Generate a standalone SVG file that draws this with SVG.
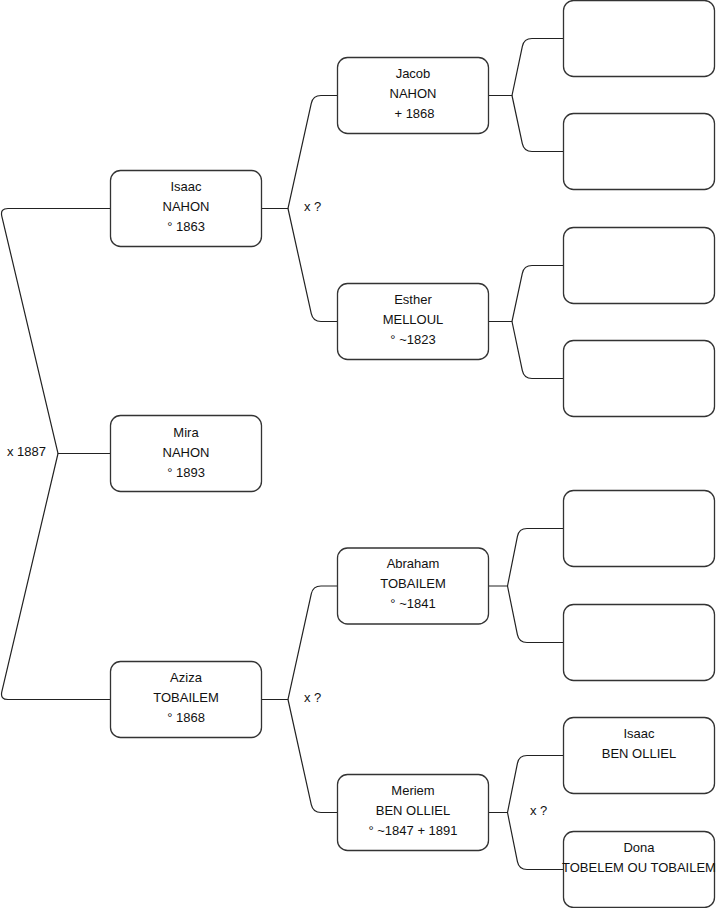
<svg xmlns="http://www.w3.org/2000/svg" width="716" height="908" viewBox="0 0 716 908">
<style>
.box{fill:#fff;stroke:#333;stroke-width:1.3}
.c{fill:none;stroke:#222;stroke-width:1.2}
text{font-family:"Liberation Sans",Arial,Helvetica,sans-serif;font-size:13px;fill:#111}
.m{text-anchor:middle}
</style>
<rect width="716" height="908" fill="#fff"/>
<g id="connectors">
<path class="c" d="M110.5,453.5 H58 L1.84,216.28 Q0,208.5 8,208.5 H110.5"/>
<path class="c" d="M58,453.5 L1.84,691.71 Q0,699.5 8,699.5 H110.5"/>
<path class="c" d="M261.5,208.5 H288 L311.27,103.31 Q313,95.5 321,95.5 H337.5"/>
<path class="c" d="M288,208.5 L311.27,313.69 Q313,321.5 321,321.5 H337.5"/>
<path class="c" d="M261.5,699.5 H288 L311.28,593.81 Q313,586 321,586 H337.5"/>
<path class="c" d="M288,699.5 L311.27,804.69 Q313,812.5 321,812.5 H337.5"/>
<path class="c" d="M488.5,95.5 H512 L522.35,46.33 Q524,38.5 532,38.5 H563.5"/>
<path class="c" d="M512,95.5 L522.32,143.68 Q524,151.5 532,151.5 H563.5"/>
<path class="c" d="M488.5,321.5 H512 L522.32,273.32 Q524,265.5 532,265.5 H563.5"/>
<path class="c" d="M512,321.5 L522.35,370.67 Q524,378.5 532,378.5 H563.5"/>
<path class="c" d="M488.5,586 H507.5 L517.43,536.34 Q519,528.5 527,528.5 H563.5"/>
<path class="c" d="M507.5,586 L517.4,634.66 Q519,642.5 527,642.5 H563.5"/>
<path class="c" d="M488.5,812.5 H507.5 L517.42,763.34 Q519,755.5 527,755.5 H563.5"/>
<path class="c" d="M507.5,812.5 L517.42,861.66 Q519,869.5 527,869.5 H563.5"/>
<text x="7" y="456">x 1887</text>
<text x="304" y="211">x ?</text>
<text x="304" y="702">x ?</text>
<text x="530" y="815">x ?</text>
</g>
<g id="isaac-nahon"><rect class="box" x="110.5" y="170.5" width="151" height="76" rx="10"/>
<text class="m" x="186" y="190.5">Isaac</text><text class="m" x="186" y="210.5">NAHON</text><text class="m" x="186" y="230.5">° 1863</text></g>
<g id="mira-nahon"><rect class="box" x="110.5" y="415.5" width="151" height="76" rx="10"/>
<text class="m" x="186" y="436.5">Mira</text><text class="m" x="186" y="456.5">NAHON</text><text class="m" x="186" y="476.5">° 1893</text></g>
<g id="aziza-tobailem"><rect class="box" x="110.5" y="661.5" width="151" height="76" rx="10"/>
<text class="m" x="186" y="681.5">Aziza</text><text class="m" x="186" y="701.5">TOBAILEM</text><text class="m" x="186" y="721.5">° 1868</text></g>
<g id="jacob-nahon"><rect class="box" x="337.5" y="57.5" width="151" height="76" rx="10"/>
<text class="m" x="413" y="77.5">Jacob</text><text class="m" x="413" y="97.5">NAHON</text><text class="m" x="414.5" y="117.5">+ 1868</text></g>
<g id="esther-melloul"><rect class="box" x="337.5" y="283.5" width="151" height="76" rx="10"/>
<text class="m" x="413" y="303.5">Esther</text><text class="m" x="413" y="323.5">MELLOUL</text><text class="m" x="413" y="343.5">° ~1823</text></g>
<g id="abraham-tobailem"><rect class="box" x="337.5" y="548" width="151" height="76" rx="10"/>
<text class="m" x="413" y="568">Abraham</text><text class="m" x="413" y="588">TOBAILEM</text><text class="m" x="413" y="608">° ~1841</text></g>
<g id="meriem-ben-olliel"><rect class="box" x="337.5" y="774.5" width="151" height="76" rx="10"/>
<text class="m" x="413" y="794.5">Meriem</text><text class="m" x="413" y="814.5">BEN OLLIEL</text><text class="m" x="413" y="834.5">° ~1847 + 1891</text></g>
<g id="empty-1"><rect class="box" x="563.5" y="0.5" width="151" height="76" rx="10"/></g>
<g id="empty-2"><rect class="box" x="563.5" y="113.5" width="151" height="76" rx="10"/></g>
<g id="empty-3"><rect class="box" x="563.5" y="227.5" width="151" height="76" rx="10"/></g>
<g id="empty-4"><rect class="box" x="563.5" y="340.5" width="151" height="76" rx="10"/></g>
<g id="empty-5"><rect class="box" x="563.5" y="490.5" width="151" height="76" rx="10"/></g>
<g id="empty-6"><rect class="box" x="563.5" y="604.5" width="151" height="76" rx="10"/></g>
<g id="isaac-ben-olliel"><rect class="box" x="563.5" y="717.5" width="151" height="76" rx="10"/>
<text class="m" x="639" y="737.5">Isaac</text><text class="m" x="639" y="757.5">BEN OLLIEL</text></g>
<g id="dona-tobelem"><rect class="box" x="563.5" y="831.5" width="151" height="76" rx="10"/>
<text class="m" x="639" y="851.5">Dona</text><text class="m" x="639" y="871.5">TOBELEM OU TOBAILEM</text></g>
</svg>
